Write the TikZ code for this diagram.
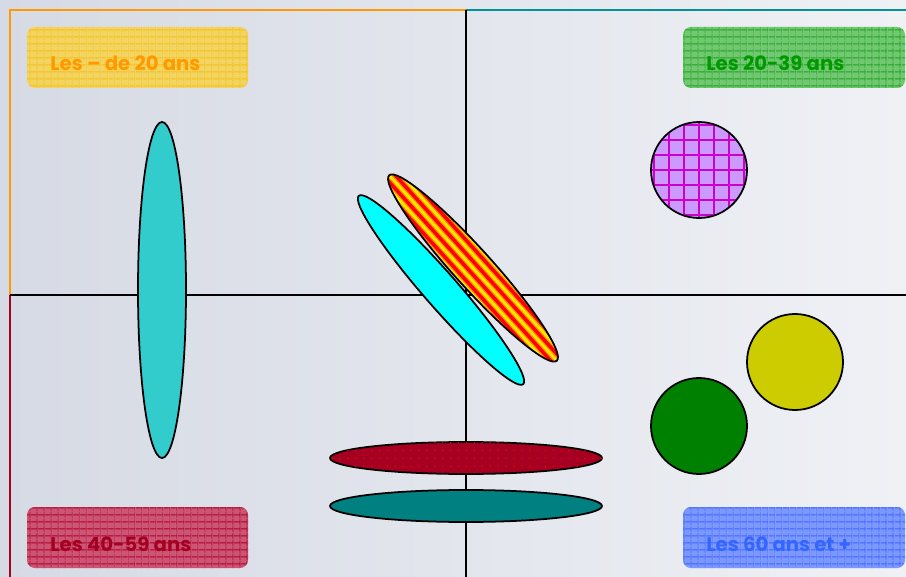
\documentclass[tikz,border=0pt]{standalone}
\usepackage{fontspec}
\setmainfont{Poppins}
\usetikzlibrary{patterns.meta}
\definecolor{bgL}{RGB}{214,218,228}
\definecolor{bgR}{RGB}{239,241,245}
\definecolor{kidsFill}{RGB}{244,212,96}\definecolor{kidsGrid}{RGB}{242,192,24}\definecolor{kidsTxt}{RGB}{255,153,0}
\definecolor{youngFill}{RGB}{112,200,112}\definecolor{youngGrid}{RGB}{34,160,34}\definecolor{youngTxt}{RGB}{0,153,0}
\definecolor{midFill}{RGB}{204,84,116}\definecolor{midGrid}{RGB}{170,0,40}\definecolor{midTxt}{RGB}{165,0,33}
\definecolor{oldFill}{RGB}{124,152,255}\definecolor{oldGrid}{RGB}{60,100,255}\definecolor{oldTxt}{RGB}{51,102,255}
\definecolor{tealc}{RGB}{0,128,128}\definecolor{crimson}{RGB}{165,0,33}
\definecolor{cyanA}{RGB}{51,204,204}\definecolor{aqua}{RGB}{0,255,255}
\definecolor{olive}{RGB}{204,204,0}\definecolor{greenc}{RGB}{0,128,0}
\definecolor{lilac}{RGB}{204,153,255}\definecolor{magentac}{RGB}{204,0,204}
\definecolor{redc}{RGB}{255,0,0}\definecolor{yellowc}{RGB}{255,230,0}\definecolor{orangec}{RGB}{255,140,0}
\tikzset{
  agebox/.style 2 args={rounded corners=4.5pt,fill=#1,
    postaction={pattern={Lines[angle=0,distance=4pt,line width=.5pt]},pattern color=#2},
    postaction={pattern={Lines[angle=90,distance=4pt,line width=.5pt]},pattern color=#2}},
  agetext/.style={anchor=base west,inner sep=0pt,text=#1,font=\bfseries\fontsize{11.2}{13}\selectfont},
  blob/.style={draw=black,line width=1pt,fill=#1}
}
\begin{document}
\begin{tikzpicture}[x=0.02cm,y=-0.02cm]
\useasboundingbox (0,0) rectangle (906,577);
\shade[left color=bgL,right color=bgR] (0,0) rectangle (906,577);
\coordinate (O) at (466,295); \coordinate (W) at (10,295); \coordinate (E) at (906,295);
\coordinate (N) at (466,10); \coordinate (S) at (466,577);
% quadrant borders
\draw[kidsTxt,line width=1.4pt] (W) -- (10,10) -- (N);
\draw[tealc!85!cyan,line width=1.4pt] (N) -- (906,10);
\draw[crimson,line width=1.4pt] (W) -- (10,577);
\draw[line width=1.2pt] (W) -- (E); \draw[line width=1.2pt] (N) -- (S);
% age labels
\path[agebox={kidsFill}{kidsGrid}] (27,27) rectangle (248,88);
\node[agetext=kidsTxt] (kids) at (50,71) {Les – de 20 ans};
\path[agebox={youngFill}{youngGrid}] (683,27) rectangle (905,88);
\node[agetext=youngTxt] (young) at (706,71) {Les 20-39 ans};
\path[agebox={midFill}{midGrid}] (27,507) rectangle (248,568);
\node[agetext=midTxt] (mid) at (50,551) {Les 40-59 ans};
\path[agebox={oldFill}{oldGrid}] (683,507) rectangle (905,568);
\node[agetext=oldTxt] (old) at (706,551) {Les 60 ans et +};
% shapes
\draw[blob=cyanA] (162,290) ellipse [x radius=24,y radius=168];
\begin{scope}
  \clip (699,170) circle [radius=48];
  \fill[lilac] (699,170) circle [radius=48];
  \foreach \k in {-3,...,3} {
    \draw[magentac,line width=.7pt] (699+15*\k,110) -- (699+15*\k,230);
    \draw[magentac,line width=.7pt] (640,170+15*\k) -- (760,170+15*\k);
  }
\end{scope}
\draw[line width=1pt] (699,170) circle [radius=48];
\draw[blob=olive] (795,362) circle [radius=48];
\draw[blob=greenc] (699,426) circle [radius=48];
\draw[blob=crimson,postaction={pattern={Dots[distance=4.5pt,radius=.45pt]},pattern color=redc}] (466,458) ellipse [x radius=136,y radius=16];
\draw[blob=tealc] (466,506) ellipse [x radius=136,y radius=16];
\draw[blob=aqua,shift={(441,290)},rotate=-48.9] (0,0) ellipse [x radius=125,y radius=17];
\begin{scope}[shift={(473,268)},rotate=-47.9]
  \clip (0,0) ellipse [x radius=125,y radius=19];
  \fill[redc] (0,0) ellipse [x radius=125,y radius=19];
  \foreach \d in {-18,-9,0,9,18} {
    \draw[orangec,line width=3pt] (-130,\d) -- (130,\d);
    \draw[yellowc,line width=1.6pt] (-130,\d) -- (130,\d);
  }
\end{scope}
\draw[line width=1pt,shift={(473,268)},rotate=-47.9] (0,0) ellipse [x radius=125,y radius=19];
\end{tikzpicture}
\end{document}
